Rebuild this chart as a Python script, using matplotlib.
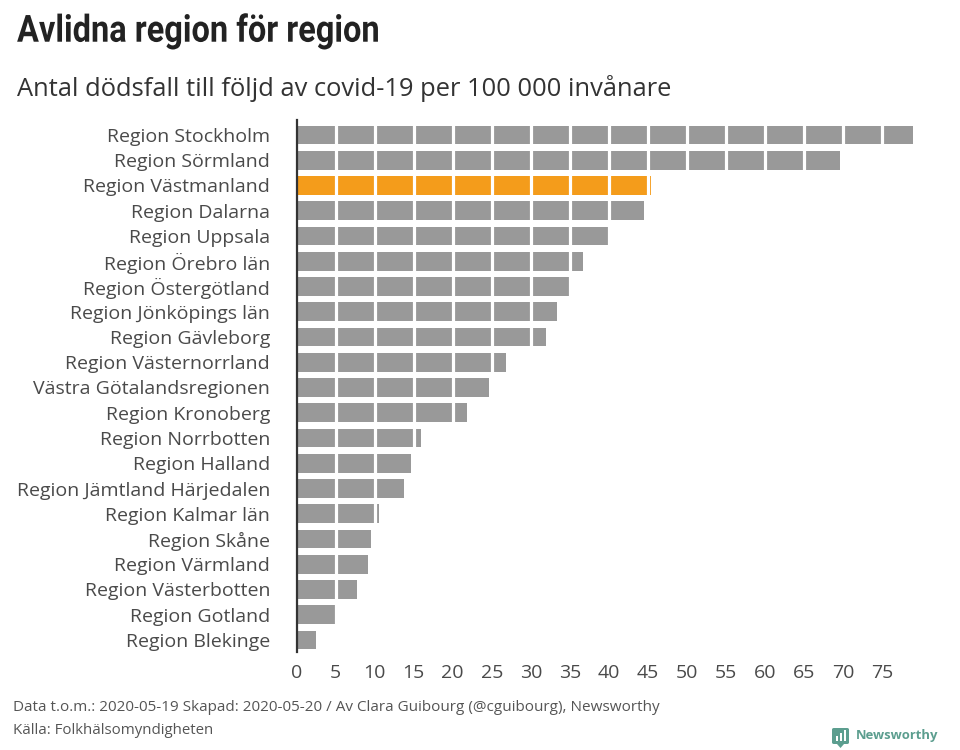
import matplotlib
matplotlib.use("Agg")
import matplotlib.pyplot as plt
from matplotlib.patches import FancyBboxPatch, Polygon, Rectangle
from matplotlib.patheffects import AbstractPathEffect
from matplotlib.transforms import Affine2D

regions = ["Region Stockholm", "Region Sörmland", "Region Västmanland", "Region Dalarna",
           "Region Uppsala", "Region Örebro län", "Region Östergötland", "Region Jönköpings län",
           "Region Gävleborg", "Region Västernorrland", "Västra Götalandsregionen", "Region Kronoberg",
           "Region Norrbotten", "Region Halland", "Region Jämtland Härjedalen", "Region Kalmar län",
           "Region Skåne", "Region Värmland", "Region Västerbotten", "Region Gotland", "Region Blekinge"]
deaths = [79.0, 69.6, 45.4, 44.5, 39.9, 36.7, 34.9, 33.3, 32.0, 26.8, 24.7, 21.8,
          16.0, 14.6, 13.8, 10.6, 9.5, 9.2, 7.8, 5.0, 2.5]
ticks = list(range(0, 80, 5))
highlight = "Region Västmanland"

W, H = 960, 750


class Condense(AbstractPathEffect):
    """Squeezes a text horizontally about a pixel x, as no condensed bold font is installed."""
    def __init__(self, x0, factor):
        super().__init__()
        self.x0, self.factor = x0, factor

    def draw_path(self, renderer, gc, tpath, affine, rgbFace=None):
        squeeze = Affine2D().translate(-self.x0, 0).scale(self.factor, 1).translate(self.x0, 0)
        renderer.draw_path(gc, tpath, affine + squeeze, rgbFace)


plt.rcParams['font.family'] = ['Open Sans', 'DejaVu Sans']
fig = plt.figure(figsize=(W/100, H/100), dpi=100, facecolor='white')
ppu = 7.81
left, right, top, bottom = 296.5, 925, 120, 652
ax = fig.add_axes([left/W, 1-bottom/H, (right-left)/W, (bottom-top)/H])
ax.set_xlim(0, (right-left)/ppu)
step = 25.25
ax.set_ylim((bottom-135)/step, (top-135)/step)

colors = ['#F49C1B' if r == highlight else '#999999' for r in regions]
ax.barh(range(len(regions)), deaths, height=0.74, color=colors, linewidth=0, zorder=2)
for t in ticks[1:]:
    ax.axvline(t, color='white', lw=2.3, zorder=3)

for s in ['top', 'right', 'bottom']:
    ax.spines[s].set_visible(False)
ax.spines['left'].set_color('#333333')
ax.spines['left'].set_linewidth(1.6)
ax.spines['left'].set_zorder(5)
ax.set_yticks(range(len(regions)), regions)
ax.set_xticks(ticks)
ax.tick_params(axis='both', length=0, labelsize=14, labelcolor='#4a4a4a')
ax.tick_params(axis='y', pad=19)
ax.tick_params(axis='x', pad=9)

fig.text(17/W, 1-31/H, "Avlidna region för region", fontsize=27, fontweight='bold',
         family=['Roboto'], color='#222222', va='center', ha='left',
         path_effects=[Condense(17, 0.868)])
fig.text(17/W, 1-88/H, "Antal dödsfall till följd av covid-19 per 100 000 invånare", fontsize=18.35,
         color='#333333', va='center', ha='left')
fig.text(13/W, 1-707.5/H, "Data t.o.m.: 2020-05-19 Skapad: 2020-05-20 / Av Clara Guibourg (@cguibourg), Newsworthy",
         fontsize=10.95, color='#555555', va='center', ha='left')
fig.text(13/W, 1-730.5/H, "Källa: Folkhälsomyndigheten", fontsize=10.8, color='#555555', va='center', ha='left')

logo = '#5C9E8F'
fig.add_artist(FancyBboxPatch((832/W, 1-744/H), 17/W, 16/H, boxstyle="round,pad=0,rounding_size=0.002",
                              transform=fig.transFigure, facecolor=logo, edgecolor='none'))
fig.add_artist(Polygon([(837/W, 1-744/H), (844/W, 1-744/H), (840.5/W, 1-748/H)],
                       transform=fig.transFigure, facecolor=logo, edgecolor='none'))
for bx, bh in [(835.5, 5), (839.5, 8), (843.5, 11)]:
    fig.add_artist(Rectangle((bx/W, 1-741/H), 2/W, bh/H, transform=fig.transFigure,
                             facecolor='white', edgecolor='none'))
fig.text(856/W, 1-735/H, "Newsworthy", fontsize=9.4, fontweight='bold', color=logo, va='center', ha='left')

fig.savefig("out.png", dpi=100)
